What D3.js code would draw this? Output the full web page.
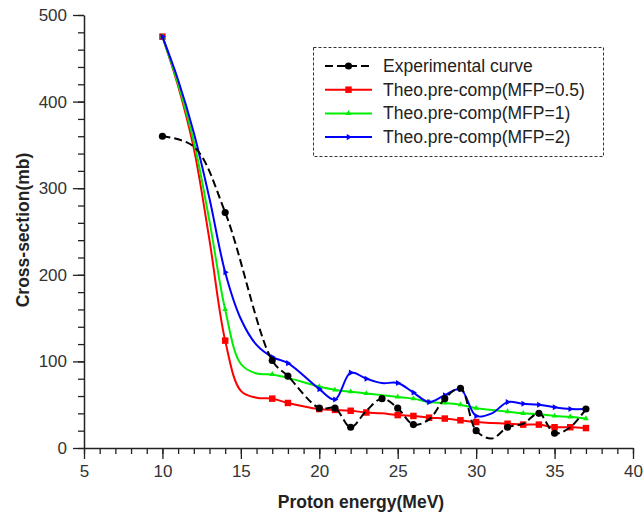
<!DOCTYPE html>
<html>
<head>
<meta charset="utf-8">
<script src="https://cdn.jsdelivr.net/npm/d3@7"></script>
<style>
  body { margin: 0; background: #fff; }
  text { font-family: "Liberation Sans", Arial, sans-serif; }
</style>
</head>
<body>
<div id="chart"></div>
<script>
// values
var expEnergy = [10, 12, 14, 17, 18, 20, 21, 22, 23, 24, 25, 26, 27, 28, 29, 30, 31, 32, 33, 34, 35, 36, 37];
var expValue  = [360, 348, 272, 101, 83, 46, 46, 24, 43, 57, 46, 27, 33, 57, 69, 20, 11, 24, 28, 40, 17, 24, 45];
var expMarked = [10, 14, 17, 18, 20, 21, 22, 24, 25, 26, 28, 29, 30, 32, 34, 35, 37];

var theoEnergy = [10, 11, 12, 13, 14, 15, 16, 17, 18, 20, 21, 22, 23, 24, 25, 26, 27, 28, 29, 30, 31, 32, 33, 34, 35, 36, 37];
var mfp05 = [475, 418, 346, 240, 124, 66, 58, 57, 52, 45, 44, 43, 41, 40, 38, 37, 35, 34, 32, 30, 29, 28, 27, 27, 24, 24, 23];
var mfp1  = [475, 420, 354, 262, 160, 97, 86, 85, 81, 71, 67, 65, 63, 61, 59, 57, 53, 52, 50, 46, 44, 42, 40, 39, 37, 36, 34];
var mfp2  = [475, 425, 364, 288, 203, 149, 119, 105, 98, 68, 56, 87, 80, 75, 75, 64, 53, 61, 68, 37, 40, 53, 51, 50, 47, 45, 45];
var theoMarked = [10, 14, 17, 18, 20, 21, 22, 23, 25, 26, 27, 28, 29, 30, 32, 33, 34, 35, 36, 37];

var legendLabels = ["Experimental curve", "Theo.pre-comp(MFP=0.5)", "Theo.pre-comp(MFP=1)", "Theo.pre-comp(MFP=2)"];
var xTicks = [5, 10, 15, 20, 25, 30, 35, 40];
var yTicks = [0, 100, 200, 300, 400, 500];

var width = 643, height = 521;
var svg = d3.select('#chart').append('svg')
    .attr('width', width)
    .attr('height', height);

var x = d3.scaleLinear().domain([5, 40]).range([84, 633]);
var y = d3.scaleLinear().domain([0, 500]).range([448, 15]);

var axisColor = '#222';

// minor ticks
svg.append('g')
    .attr('transform', 'translate(0,448)')
    .call(d3.axisBottom(x).tickValues(d3.range(5, 41, 1)).tickSize(6).tickFormat(''))
    .call(function (g) { g.select('.domain').remove(); });
svg.append('g')
    .attr('transform', 'translate(84,0)')
    .call(d3.axisLeft(y).tickValues(d3.range(0, 501, 20)).tickSize(6).tickFormat(''))
    .call(function (g) { g.select('.domain').remove(); });

// major axes
var xAxis = svg.append('g')
    .attr('transform', 'translate(0,448)')
    .call(d3.axisBottom(x).tickValues(xTicks).tickSize(11).tickPadding(6).tickSizeOuter(0));
var yAxis = svg.append('g')
    .attr('transform', 'translate(84,0)')
    .call(d3.axisLeft(y).tickValues(yTicks).tickSize(11).tickPadding(6).tickSizeOuter(0));

svg.selectAll('.tick line').attr('stroke', axisColor).attr('stroke-width', 1.3);
svg.selectAll('.domain').attr('stroke', axisColor).attr('stroke-width', 1.5);
[xAxis, yAxis].forEach(function (a) {
    a.selectAll('text')
        .attr('font-size', 17)
        .attr('fill', '#333')
        .attr('font-family', '"Liberation Sans", Arial, sans-serif');
});

// axis titles
svg.append('text')
    .attr('x', 361)
    .attr('y', 508)
    .attr('text-anchor', 'middle')
    .attr('font-size', 17.5)
    .attr('font-weight', 'bold')
    .attr('fill', '#222')
    .text('Proton energy(MeV)');
svg.append('text')
    .attr('transform', 'translate(29,230) rotate(-90)')
    .attr('text-anchor', 'middle')
    .attr('font-size', 17.5)
    .attr('font-weight', 'bold')
    .attr('fill', '#222')
    .text('Cross-section(mb)');

var line = d3.line()
    .x(function (d) { return x(d[0]); })
    .y(function (d) { return y(d[1]); })
    .curve(d3.curveCatmullRom.alpha(0.5));

function pairs(xs, ys) {
    return xs.map(function (v, i) { return [v, ys[i]]; });
}

var series = [
    { pts: pairs(expEnergy, expValue), marked: expMarked, color: '#000', dash: '8,4', symbol: d3.symbolCircle, size: 40 },
    { pts: pairs(theoEnergy, mfp05), marked: theoMarked, color: '#ff0000', dash: null, symbol: d3.symbolSquare, size: 42 },
    { pts: pairs(theoEnergy, mfp1), marked: theoMarked, color: '#00ee00', dash: null, symbol: d3.symbolTriangle, size: 14 },
    { pts: pairs(theoEnergy, mfp2), marked: theoMarked, color: '#0000ff', dash: null, symbol: d3.symbolTriangle, size: 16 }
];

// theory curves first, experimental on top
[1, 2, 3, 0].forEach(function (k) {
    var s = series[k];
    svg.append('path')
        .datum(s.pts)
        .attr('d', line)
        .attr('fill', 'none')
        .attr('stroke', s.color)
        .attr('stroke-width', 2)
        .attr('stroke-dasharray', s.dash);
    svg.append('g').selectAll('path')
        .data(s.pts.filter(function (p) { return s.marked.indexOf(p[0]) >= 0; }))
        .enter().append('path')
        .attr('transform', function (d) { return 'translate(' + x(d[0]) + ',' + y(d[1]) + ')' + (k === 3 ? ' rotate(90)' : ''); })
        .attr('d', d3.symbol().type(s.symbol).size(s.size))
        .attr('fill', s.color);
});

// legend
var lg = svg.append('g');
lg.append('rect')
    .attr('x', 313.5)
    .attr('y', 47.5)
    .attr('width', 290)
    .attr('height', 109)
    .attr('fill', '#fff')
    .attr('stroke', '#333')
    .attr('stroke-width', 1)
    .attr('stroke-dasharray', '3,2');

var rows = lg.selectAll('g.row')
    .data(series)
    .enter().append('g')
    .attr('class', 'row')
    .attr('transform', function (d, i) { return 'translate(0,' + (66 + i * 23.7) + ')'; });
rows.append('line')
    .attr('x1', 325).attr('x2', 372)
    .attr('stroke', function (d) { return d.color; })
    .attr('stroke-width', 2)
    .attr('stroke-dasharray', function (d) { return d.dash; });
rows.append('path')
    .attr('transform', function (d, i) { return 'translate(348.5,0)' + (i === 3 ? ' rotate(90)' : ''); })
    .attr('d', function (d) { return d3.symbol().type(d.symbol).size(d.size)(); })
    .attr('fill', function (d) { return d.color; });
rows.append('text')
    .attr('x', 383)
    .attr('y', 6)
    .attr('font-size', 17.5)
    .attr('fill', '#222')
    .text(function (d, i) { return legendLabels[i]; });
</script>
</body>
</html>
